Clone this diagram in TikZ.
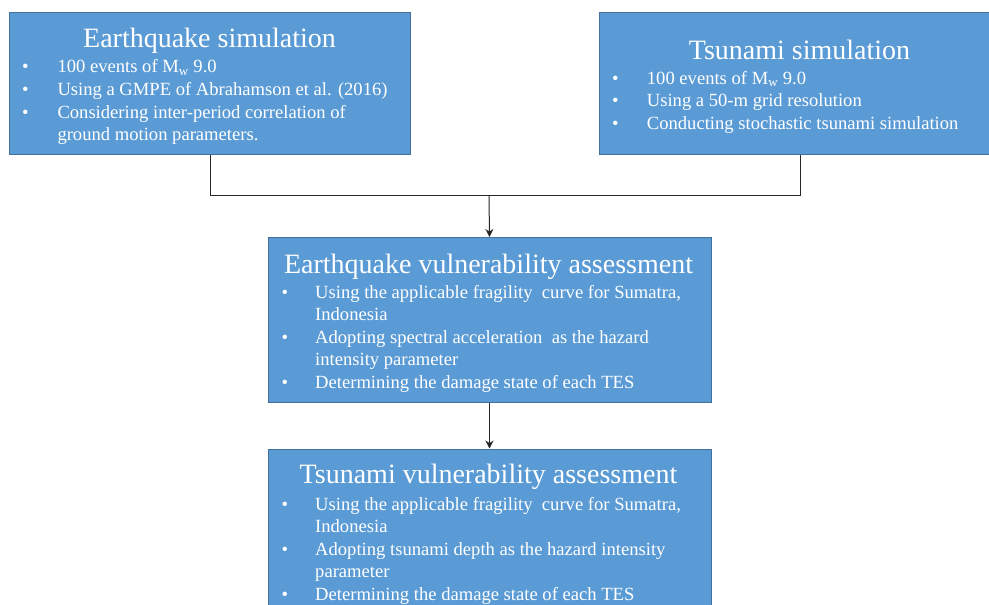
\documentclass[tikz,border=0pt]{standalone}
\usepackage{fontspec}
\setmainfont{Liberation Serif}
\usetikzlibrary{arrows.meta}
\definecolor{boxfill}{HTML}{5B9BD5}
\definecolor{boxline}{HTML}{41719C}
\tikzset{
  box/.style={draw=boxline, fill=boxfill, line width=1pt, inner sep=0pt, anchor=north west},
  ttl/.style={text=white, font=\fontsize{28}{30}\selectfont, inner sep=0pt, anchor=base},
  btext/.style={text=white, font=\fontsize{18.6}{22}\selectfont, inner sep=0pt, anchor=base west},
  conn/.style={draw=black!85, line width=1pt},
  arr/.style={conn, -{Stealth[length=8pt,width=8pt]}}
}
\newcommand\bul[3]{\node[btext] (#1) at (#2,#3) {\textbullet};}
\newcommand\lin[4]{\node[btext] (#1) at (#2,#3) {#4};}
\begin{document}
\begin{tikzpicture}[x=1pt,y=-1pt]
\useasboundingbox (0,0) rectangle (989,605);
\clip (0,0) rectangle (989,605);
% boxes
\node[box, minimum width=401pt, minimum height=142pt] (eq) at (9,12) {};
\node[box, minimum width=402pt, minimum height=142pt] (ts) at (599,12) {};
\node[box, minimum width=443pt, minimum height=165pt] (ev) at (267.5,237) {};
\node[box, minimum width=443pt, minimum height=170pt] (tv) at (267.5,448.5) {};
% connectors
\coordinate (jn) at (489,195.5);
\draw[conn] (eq.south) |- (jn) -| (ts.south);
\draw[arr] (jn) -- (ev.north);
\draw[arr] (ev.south) -- (tv.north);
% box 1
\node[ttl] (eqt) at (209.5,47) {Earthquake simulation};
\bul{eqb1}{22}{72.7}\lin{eql1}{57.3}{72.7}{100 events of M\textsubscript{w} 9.0}
\bul{eqb2}{22}{95.7}\lin{eql2}{57.3}{95.7}{Using a GMPE of Abrahamson et al. (2016)}
\bul{eqb3}{22}{118.5}\lin{eql3}{57.3}{118.5}{Considering inter-period correlation of}
\lin{eql4}{57.3}{140.5}{ground motion parameters.}
% box 2
\node[ttl] (tst) at (799.5,59.3) {Tsunami simulation};
\bul{tsb1}{612}{84}\lin{tsl1}{646.7}{84}{100 events of M\textsubscript{w} 9.0}
\bul{tsb2}{612}{106.5}\lin{tsl2}{646.7}{106.5}{Using a 50-m grid resolution}
\bul{tsb3}{612}{129}\lin{tsl3}{646.7}{129}{Conducting stochastic tsunami simulation}
% box 3
\node[ttl] (evt) at (488.5,273.3) {Earthquake vulnerability assessment};
\bul{evb1}{281.5}{298.3}\lin{evl1}{315}{298.3}{Using the applicable fragility \ curve for Sumatra,}
\lin{evl2}{315}{320.5}{Indonesia}
\bul{evb2}{281.5}{343.3}\lin{evl3}{315}{343.3}{Adopting spectral acceleration \ as the hazard}
\lin{evl4}{315}{365.5}{intensity parameter}
\bul{evb3}{281.5}{388.3}\lin{evl5}{315}{388.3}{Determining the damage state of each TES}
% box 4
\node[ttl] (tvt) at (488.5,483.3) {Tsunami vulnerability assessment};
\bul{tvb1}{281.5}{510}\lin{tvl1}{315}{510}{Using the applicable fragility \ curve for Sumatra,}
\lin{tvl2}{315}{532}{Indonesia}
\bul{tvb2}{281.5}{555}\lin{tvl3}{315}{555}{Adopting tsunami depth as the hazard intensity}
\lin{tvl4}{315}{577}{parameter}
\bul{tvb3}{281.5}{600}\lin{tvl5}{315}{600}{Determining the damage state of each TES}
\end{tikzpicture}
\end{document}
